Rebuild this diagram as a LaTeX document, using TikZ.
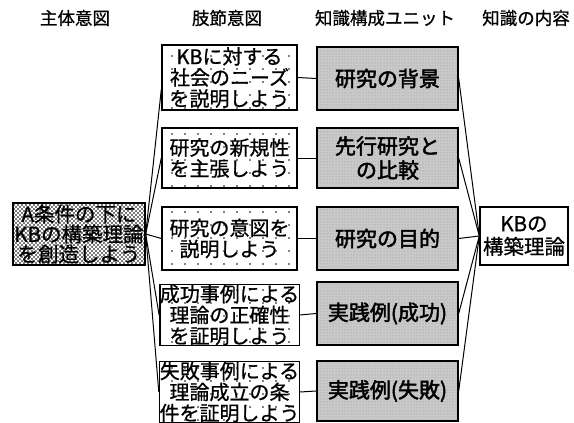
\documentclass[tikz,border=0pt]{standalone}
\usepackage{fontspec}
\setmainfont{Noto Sans CJK JP}
\newfontfamily\jpb[FakeBold=2.2]{Noto Sans CJK JP}
\newfontfamily\jpm[FakeBold=0.8]{Noto Sans CJK JP}
\usetikzlibrary{patterns}
\pgfdeclarepatternformonly{sparsedots}{\pgfpoint{-1pt}{-1pt}}{\pgfpoint{14pt}{14pt}}{\pgfpoint{13pt}{13pt}}{%
  \pgfpathcircle{\pgfpoint{3pt}{3pt}}{0.9pt}\pgfusepath{fill}}
\pgfdeclarepatternformonly{densedots}{\pgfpoint{-1pt}{-1pt}}{\pgfpoint{5pt}{5pt}}{\pgfpoint{4pt}{4pt}}{%
  \pgfpathcircle{\pgfpoint{0pt}{0pt}}{1.05pt}\pgfusepath{fill}
  \pgfpathcircle{\pgfpoint{2pt}{2pt}}{1.05pt}\pgfusepath{fill}}
\tikzset{
  hdr/.style={font=\jpm\fontsize{17.5}{19}\selectfont, inner sep=0pt},
  box/.style={draw=black, line width=1.4pt, inner sep=0pt, align=center},
  subjbox/.style={box, minimum width=132pt, minimum height=62pt,
    preaction={fill=white}, pattern=densedots, pattern color=black!70,
    font=\jpm\fontsize{20.5}{20}\selectfont},
  intbox/.style={box, minimum width=135pt,
    preaction={fill=white}, pattern=sparsedots, pattern color=black,
    font=\jpm\fontsize{20}{21}\selectfont},
  unitbox/.style={box, minimum width=141pt,
    preaction={fill=gray!42}, pattern=dots, pattern color=gray!85,
    font=\jpb\fontsize{21}{24}\selectfont},
  contbox/.style={box, fill=white, minimum width=88pt, minimum height=58pt,
    font=\jpm\fontsize{20.5}{23}\selectfont},
  conn/.style={draw=black, line width=1pt}
}
\begin{document}
\begin{tikzpicture}[x=1pt,y=-1pt]
\useasboundingbox (0,0) rectangle (574,423);
\fill[white] (0,0) rectangle (574,423);
% headers
\node[hdr] (h1) at (75,18) {主体意図};
\node[hdr] (h2) at (227,18) {肢節意図};
\node[hdr] (h3) at (385,18) {知識構成ユニット};
\node[hdr] (h4) at (526,18) {知識の内容};
% subject intention
\node[subjbox] (L) at (79,234) {A条件の下に\\KBの構築理論\\を創造しよう};
% member intentions
\node[intbox, minimum height=65pt] (b1) at (229.5,77.5) {KBに対する\\社会のニーズ\\を説明しよう};
\node[intbox, minimum height=60pt] (b2) at (229.5,158) {研究の新規性\\を主張しよう};
\node[intbox, minimum height=63pt] (b3) at (229.5,238.5) {研究の意図を\\説明しよう};
\node[intbox, minimum height=60pt] (b4) at (229.5,315) {成功事例による\\理論の正確性\\を証明しよう};
\node[intbox, minimum height=60pt] (b5) at (229.5,392) {失敗事例による\\理論成立の条\\件を証明しよう};
% knowledge units
\node[unitbox, minimum height=63pt] (c1) at (387.5,78.5) {研究の背景};
\node[unitbox, minimum height=60pt] (c2) at (387.5,158) {先行研究と\\の比較};
\node[unitbox, minimum height=63pt] (c3) at (387.5,238.5) {研究の目的};
\node[unitbox, minimum height=63pt] (c4) at (387.5,313.5) {実践例(成功)};
\node[unitbox, minimum height=60pt] (c5) at (387.5,391) {実践例(失敗)};
% knowledge content
\node[contbox] (R) at (524,236) {KBの\\構築理論};
% connectors
\draw[conn] (L.east) -- ([yshift=-12pt]b1.west);
\draw[conn] (L.east) -- (b2.west);
\draw[conn] (L.east) -- (b3.west);
\draw[conn] (L.east) -- (b4.west);
\draw[conn] (L.east) -- (b5.west);
\foreach \i in {1,...,5}{
  \draw[conn] (b\i.east) -- (c\i.west);
  \draw[conn] (c\i.east) -- (R.west);
}
\end{tikzpicture}
\end{document}
